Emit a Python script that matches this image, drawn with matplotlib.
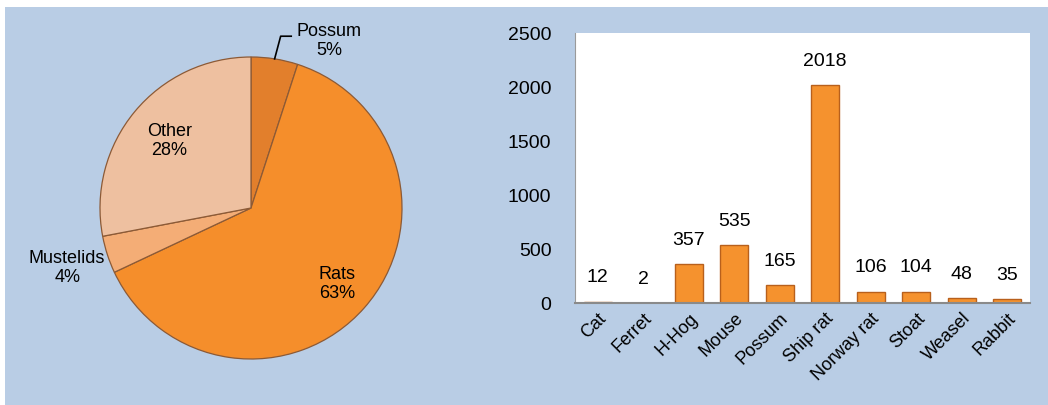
import numpy as np
import matplotlib.pyplot as plt
from matplotlib.patches import Rectangle

plt.rcParams['font.family'] = ['Liberation Sans', 'DejaVu Sans']

# pie data
groups = ['Possum', 'Rats', 'Mustelids', 'Other']
shares = [5, 63, 4, 28]
pie_colors = ['#E27F2C', '#F58E2B', '#F4AD76', '#EEC0A0']

# bar data
animals = ['Cat', 'Ferret', 'H-Hog', 'Mouse', 'Possum', 'Ship rat',
           'Norway rat', 'Stoat', 'Weasel', 'Rabbit']
counts = [12, 2, 357, 535, 165, 2018, 106, 104, 48, 35]

W, H = 1048, 405
fig = plt.figure(figsize=(W / 100, H / 100), dpi=100, facecolor='white')
fig.patches.append(Rectangle((5 / W, 0), 1, (H - 7) / H, transform=fig.transFigure,
                             facecolor='#B9CDE5', edgecolor='none', zorder=-10))

# ---- pie ----
cx, cy, r = 251, 208, 151
ax1 = fig.add_axes([(cx - r) / W, (H - cy - r) / H, 2 * r / W, 2 * r / H])
wedges, _ = ax1.pie(shares, colors=pie_colors, startangle=90, counterclock=False,
                    wedgeprops=dict(edgecolor='#8C5A36', linewidth=0.9))
ax1.set_xlim(-1, 1)
ax1.set_ylim(-1, 1)
ax1.set_aspect('equal')
ax1.axis('off')

fs = 13
for w, name, s in zip(wedges, groups, shares):
    mid = np.deg2rad((w.theta1 + w.theta2) / 2)
    txt = f'{name}\n{s}%'
    if name == 'Possum':
        x0, y0 = np.cos(mid), np.sin(mid)
        ax1.plot([x0, x0 + 0.04, x0 + 0.11], [y0, y0 + 0.15, y0 + 0.15],
                 color='black', lw=1.2, clip_on=False)
        ax1.text(x0 + 0.36, y0 + 0.12, txt, ha='center', va='center',
                 fontsize=fs, linespacing=1.15)
    elif name == 'Mustelids':
        ax1.text(1.28 * np.cos(mid), 1.28 * np.sin(mid), txt, ha='center',
                 va='center', fontsize=fs, linespacing=1.15)
    else:
        k = 0.7 if name == 'Other' else 0.76
        ax1.text(k * np.cos(mid), k * np.sin(mid), txt, ha='center',
                 va='center', fontsize=fs, linespacing=1.15)

# ---- bars ----
left, right, top, bottom = 575, 1030, 33, 303
ax2 = fig.add_axes([left / W, (H - bottom) / H, (right - left) / W, (bottom - top) / H])
x = np.arange(len(animals))
bars = ax2.bar(x, counts, width=0.62, color='#F5922E', edgecolor='#B8601C', linewidth=1)
ax2.set_xlim(-0.5, len(animals) - 0.5)
ax2.set_ylim(0, 2500)
ax2.set_yticks(np.arange(0, 2501, 500))
ax2.tick_params(axis='y', length=0, labelsize=14, pad=17)
ax2.tick_params(axis='x', length=0, labelsize=13, pad=5)
ax2.set_xticks(x)
ax2.set_xticklabels(animals, rotation=45, ha='right', rotation_mode='anchor')
for b, v in zip(bars, counts):
    ax2.annotate(str(v), (b.get_x() + b.get_width() / 2, v), xytext=(0, 11),
                 textcoords='offset points', ha='center', va='bottom', fontsize=14)
for side in ['top', 'right']:
    ax2.spines[side].set_visible(False)
ax2.spines['left'].set_color('#9A9A9A')
ax2.spines['bottom'].set_color('#8A8A8A')
ax2.spines['bottom'].set_linewidth(1.5)
ax2.set_facecolor('white')

fig.savefig('out.png', dpi=100, facecolor=fig.get_facecolor())
